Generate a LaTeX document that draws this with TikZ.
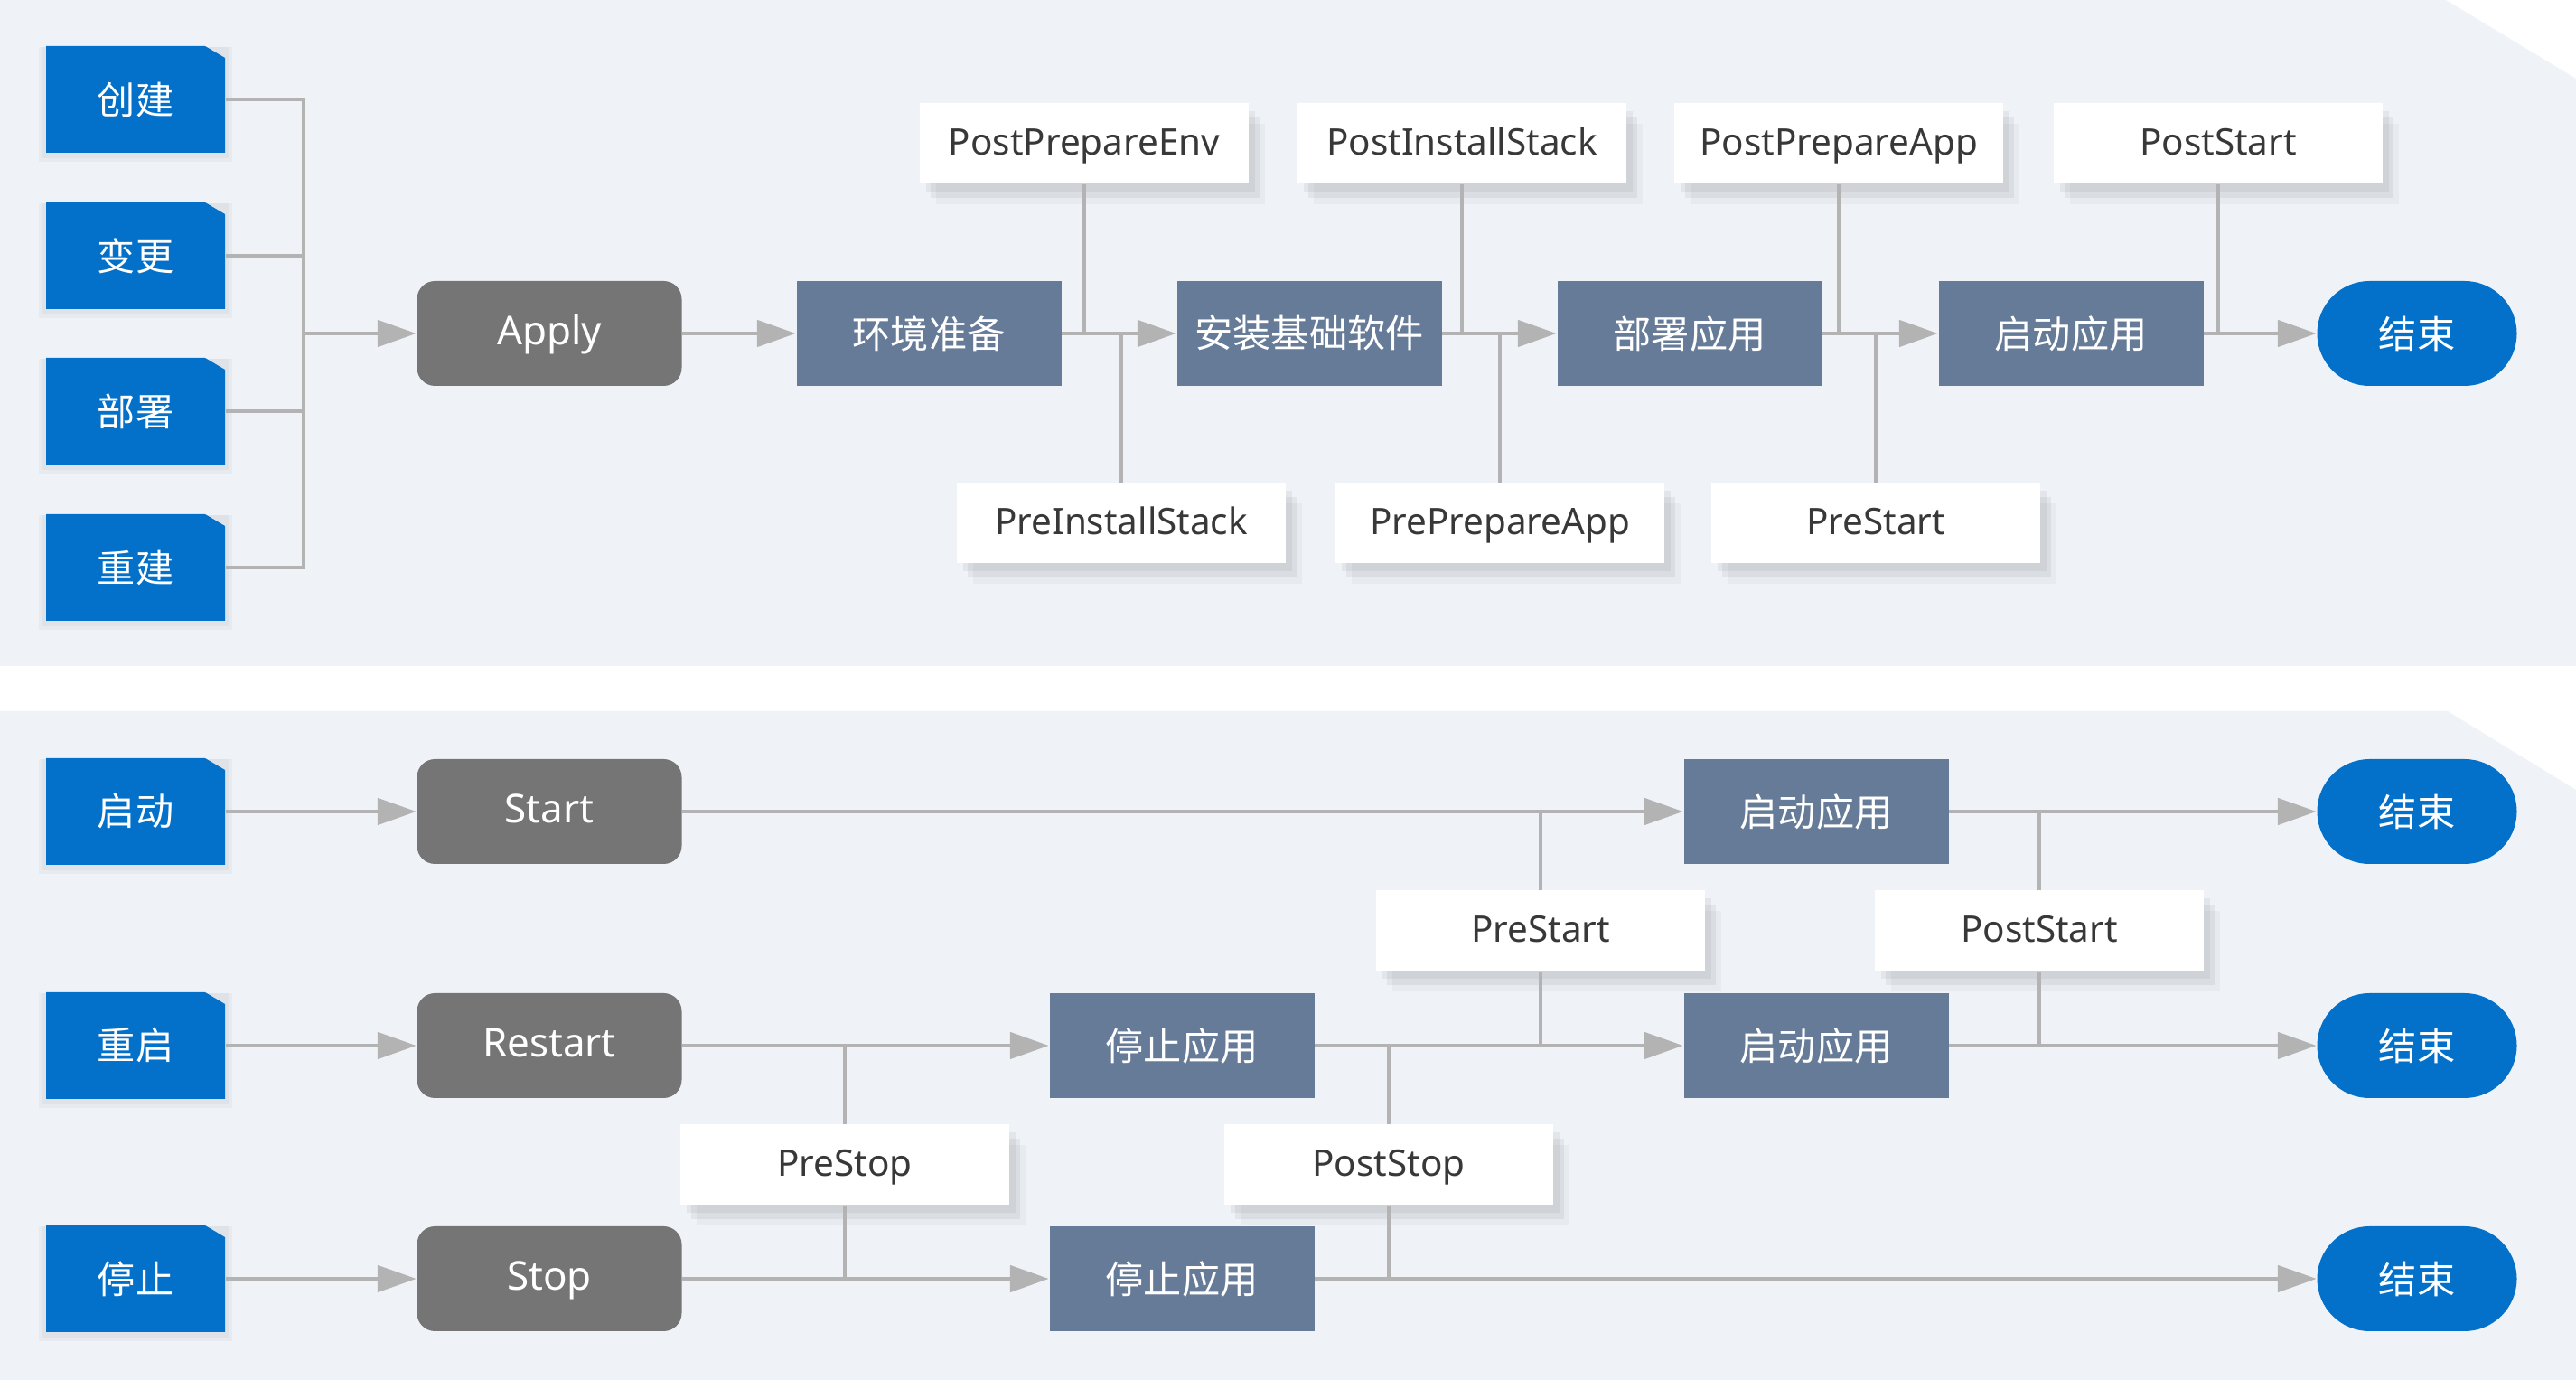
\documentclass[tikz,border=0pt]{standalone}
\usepackage{fontspec}
\setmainfont{Noto Sans}
\newfontfamily\cjk{Noto Sans CJK SC}
\usetikzlibrary{arrows.meta, shadows}
\definecolor{panelbg}{HTML}{EFF3F7}
\definecolor{tabblue}{HTML}{0370CA}
\definecolor{actiongray}{HTML}{757575}
\definecolor{phaseblue}{HTML}{667B98}
\definecolor{linkgray}{HTML}{B3B3B3}
\definecolor{hooktext}{HTML}{383838}

\tikzset{
  softshadow/.style={
    general shadow={fill=black, opacity=0.05, shadow xshift=2pt, shadow yshift=-2.5pt},
    general shadow={fill=black, opacity=0.05, shadow xshift=3.5pt, shadow yshift=-4.5pt},
    general shadow={fill=black, opacity=0.03, shadow xshift=5pt, shadow yshift=-6.5pt}},
  haloshadow/.style={
    general shadow={fill=black, opacity=0.03, shadow scale=1.08, shadow yshift=-1.5pt},
    general shadow={fill=black, opacity=0.03, shadow scale=1.04, shadow yshift=-1pt}},
  trigger/.style={rectangle, haloshadow, text=white,
    minimum width=1.98cm, minimum height=1.18cm, inner sep=0pt,
    font=\cjk\fontsize{12}{14}\selectfont,
    path picture={\fill[tabblue] (path picture bounding box.south west)
      -- (path picture bounding box.north west)
      -- ([xshift=-0.22cm]path picture bounding box.north east)
      -- ([yshift=-0.13cm]path picture bounding box.north east)
      -- (path picture bounding box.south east) -- cycle;}},
  action/.style={rectangle, rounded corners=0.2cm, fill=actiongray, text=white,
    minimum width=2.93cm, minimum height=1.16cm, text height=0.72em, text depth=0pt,
    font=\fontsize{12.5}{15}\selectfont},
  phase/.style={rectangle, fill=phaseblue, text=white,
    minimum width=2.93cm, minimum height=1.16cm, font=\cjk\fontsize{12}{14}\selectfont},
  finish/.style={rectangle, rounded corners=0.58cm, fill=tabblue, text=white,
    minimum width=2.21cm, minimum height=1.16cm, font=\cjk\fontsize{12}{14}\selectfont},
  hook/.style={rectangle, fill=white, text=hooktext, softshadow,
    minimum width=3.64cm, minimum height=0.89cm, text height=0.72em, text depth=0pt,
    font=\fontsize{11.5}{14}\selectfont},
  flow/.style={draw=linkgray, line width=1.4pt, -{Triangle[length=4.3mm, width=2.9mm]}},
  link/.style={draw=linkgray, line width=1.4pt},
}

\begin{document}
\begin{tikzpicture}
  \useasboundingbox (0,0) rectangle (28.51,15.27);

  % Background panels
  \fill[panelbg] (0,7.90) -- (0,15.27) -- (27.07,15.27) -- (28.51,14.40) -- (28.51,7.90) -- cycle;
  \fill[panelbg] (0,0) -- (0,7.40) -- (27.09,7.40) -- (28.51,6.53) -- (28.51,0) -- cycle;

  % Apply: triggers
  \node[trigger] (create) at (1.50,14.17) {创建};
  \node[trigger] (change) at (1.50,12.44) {变更};
  \node[trigger] (deploy) at (1.50,10.72) {部署};
  \node[trigger] (rebuild) at (1.50,8.99) {重建};
  \coordinate (merge) at (3.36,11.58);

  % Apply: main steps
  \node[action] (apply) at (6.08,11.58) {Apply};
  \node[phase] (prepenv) at (10.28,11.58) {环境准备};
  \node[phase] (install) at (14.49,11.58) {安装基础软件};
  \node[phase] (deployapp) at (18.70,11.58) {部署应用};
  \node[phase] (startapp) at (22.92,11.58) {启动应用};
  \node[finish] (done) at (26.75,11.58) {结束};

  % Apply: hooks
  \node[hook] (postenv) at (12.00,13.68) {PostPrepareEnv};
  \node[hook] (postinstall) at (16.18,13.68) {PostInstallStack};
  \node[hook] (postprep) at (20.35,13.68) {PostPrepareApp};
  \node[hook] (poststart) at (24.55,13.68) {PostStart};
  \node[hook] (preinstall) at (12.41,9.48) {PreInstallStack};
  \node[hook] (preprep) at (16.60,9.48) {PrePrepareApp};
  \node[hook] (prestart) at (20.76,9.48) {PreStart};

  % Apply: connectors
  \draw[link] (create.east) -| (merge);
  \draw[link] (change.east) -| (merge);
  \draw[link] (deploy.east) -| (merge);
  \draw[link] (rebuild.east) -| (merge);
  \draw[flow] (merge) -- (apply);
  \draw[flow] (apply) -- (prepenv);
  \draw[flow] (prepenv) -- (install);
  \draw[flow] (install) -- (deployapp);
  \draw[flow] (deployapp) -- (startapp);
  \draw[flow] (startapp) -- (done);
  \draw[link] (postenv.south) -- (postenv.south |- prepenv.east);
  \draw[link] (postinstall.south) -- (postinstall.south |- install.east);
  \draw[link] (postprep.south) -- (postprep.south |- deployapp.east);
  \draw[link] (poststart.south) -- (poststart.south |- startapp.east);
  \draw[link] (preinstall.north) -- (preinstall.north |- prepenv.east);
  \draw[link] (preprep.north) -- (preprep.north |- install.east);
  \draw[link] (prestart.north) -- (prestart.north |- deployapp.east);

  % Start / Restart / Stop: triggers and actions
  \node[trigger] (boot) at (1.50,6.29) {启动};
  \node[trigger] (reboot) at (1.50,3.70) {重启};
  \node[trigger] (halt) at (1.50,1.12) {停止};
  \node[action] (start) at (6.08,6.29) {Start};
  \node[action] (restart) at (6.08,3.70) {Restart};
  \node[action] (stop) at (6.08,1.12) {Stop};

  % Start / Restart / Stop: steps
  \node[phase] (runa) at (20.10,6.29) {启动应用};
  \node[phase] (stopb) at (13.08,3.70) {停止应用};
  \node[phase] (runb) at (20.10,3.70) {启动应用};
  \node[phase] (stopc) at (13.08,1.12) {停止应用};
  \node[finish] (donea) at (26.75,6.29) {结束};
  \node[finish] (doneb) at (26.75,3.70) {结束};
  \node[finish] (donec) at (26.75,1.12) {结束};

  % Start / Restart / Stop: hooks
  \node[hook] (prestartb) at (17.05,4.97) {PreStart};
  \node[hook] (poststartb) at (22.57,4.97) {PostStart};
  \node[hook] (prestop) at (9.35,2.38) {PreStop};
  \node[hook] (poststop) at (15.37,2.38) {PostStop};

  % Start / Restart / Stop: connectors
  \draw[flow] (boot) -- (start);
  \draw[flow] (reboot) -- (restart);
  \draw[flow] (halt) -- (stop);
  \draw[flow] (start) -- (runa);
  \draw[flow] (runa) -- (donea);
  \draw[flow] (restart) -- (stopb);
  \draw[flow] (stopb) -- (runb);
  \draw[flow] (runb) -- (doneb);
  \draw[flow] (stop) -- (stopc);
  \draw[flow] (stopc) -- (donec);
  \draw[link] (prestartb.north) -- (prestartb.north |- start.east);
  \draw[link] (prestartb.south) -- (prestartb.south |- restart.east);
  \draw[link] (poststartb.north) -- (poststartb.north |- runa.east);
  \draw[link] (poststartb.south) -- (poststartb.south |- runb.east);
  \draw[link] (prestop.north) -- (prestop.north |- restart.east);
  \draw[link] (prestop.south) -- (prestop.south |- stop.east);
  \draw[link] (poststop.north) -- (poststop.north |- stopb.east);
  \draw[link] (poststop.south) -- (poststop.south |- stopc.east);
\end{tikzpicture}
\end{document}
